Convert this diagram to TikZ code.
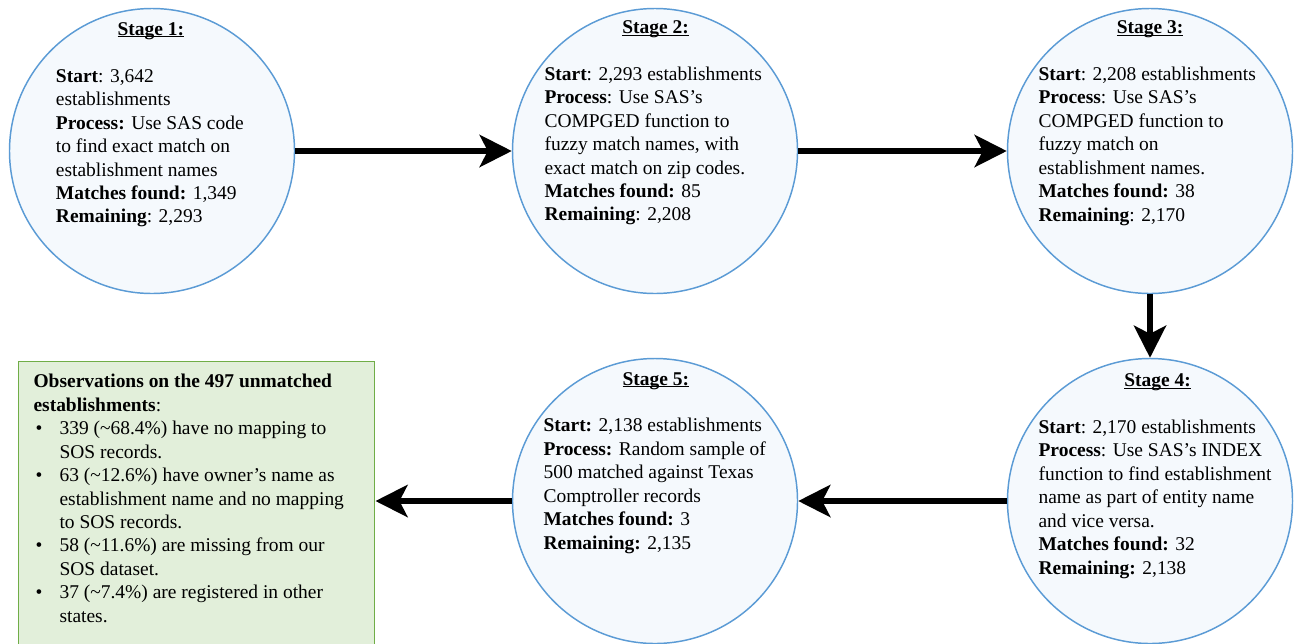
\documentclass[tikz,border=0pt]{standalone}
\usepackage{fontspec}
\setmainfont{Liberation Serif}
\usetikzlibrary{arrows.meta}
\definecolor{circfill}{RGB}{245,249,253}
\definecolor{circline}{RGB}{91,155,213}
\definecolor{boxfill}{RGB}{226,239,218}
\definecolor{boxline}{RGB}{112,173,71}
\newcommand\myul[1]{\setbox0\hbox{#1}\rlap{\rule[-1.8pt]{\wd0}{0.9pt}}\box0}
\newcommand\obbul{\hspace*{1.5pt}\makebox[18pt][l]{\textbullet}}
\newcommand\obind{\hspace*{19.5pt}}
\tikzset{
  stagecirc/.style={circle, draw=circline, fill=circfill, line width=1.1pt, minimum size=213.75pt, inner sep=0pt},
  obsbox/.style={rectangle, draw=boxline, fill=boxfill, line width=1.1pt, minimum width=267pt, minimum height=240pt, inner sep=0pt, anchor=north west},
  body/.style={font=\fontsize{14.6}{17.6}\selectfont, align=left, inner sep=0pt, anchor=north west},
  title/.style={font=\fontsize{14.6}{17.6}\selectfont\bfseries, inner sep=0pt, anchor=base},
  flow/.style={line width=4.5pt, -{Stealth[length=24pt, width=24pt, inset=6pt]}}
}
\begin{document}
\begin{tikzpicture}[x=0.75pt,y=-0.75pt]
\clip (0,0) rectangle (1294,643);
\useasboundingbox (0,0) rectangle (1294,643);
% circles
\node[stagecirc] (s1) at (152,151) {};
\node[stagecirc] (s2) at (655,151) {};
\node[stagecirc] (s3) at (1150,151) {};
\node[stagecirc] (s4) at (1150,501) {};
\node[stagecirc] (s5) at (655,501) {};
\node[obsbox] (obs) at (18,361) {};
% titles
\node[title] (h1) at (150.8,35) {\myul{Stage 1:}};
\node[title] (h2) at (655.5,33.5) {\myul{Stage 2:}};
\node[title] (h3) at (1150,33.5) {\myul{Stage 3:}};
\node[title] (h4) at (1157.5,386.5) {\myul{Stage 4:}};
\node[title] (h5) at (655.8,385) {\myul{Stage 5:}};
% bodies
\node[body] (b1) at (55.7,65.5) {\strut\textbf{Start}: 3,642\\
establishments\\
\textbf{Process:} Use SAS code\\
to find exact match on\\
establishment names\\
\textbf{Matches found:} 1,349\\
\textbf{Remaining}: 2,293};
\node[body] (b2) at (544.3,63.5) {\strut\textbf{Start}: 2,293 establishments\\
\textbf{Process}: Use SAS’s\\
COMPGED function to\\
fuzzy match names, with\\
exact match on zip codes.\\
\textbf{Matches found:} 85\\
\textbf{Remaining}: 2,208};
\node[body] (b3) at (1038.3,63.8) {\strut\textbf{Start}: 2,208 establishments\\
\textbf{Process}: Use SAS’s\\
COMPGED function to\\
fuzzy match on\\
establishment names.\\
\textbf{Matches found:} 38\\
\textbf{Remaining}: 2,170};
\node[body] (b4) at (1038.3,416.5) {\strut\textbf{Start}: 2,170 establishments\\
\textbf{Process}: Use SAS’s INDEX\\
function to find establishment\\
name as part of entity name\\
and vice versa.\\
\textbf{Matches found:} 32\\
\textbf{Remaining:} 2,138};
\node[body] (b5) at (543.3,415) {\strut\textbf{Start:} 2,138 establishments\\
\textbf{Process:} Random sample of\\
500 matched against Texas\\
Comptroller records\\
\textbf{Matches found:} 3\\
\textbf{Remaining:} 2,135};
\node[body] (bo) at (33.3,371) {\strut\textbf{Observations on the 497 unmatched}\\
\textbf{establishments}:\\
\obbul 339 (\textasciitilde68.4\%) have no mapping to\\
\obind SOS records.\\
\obbul 63 (\textasciitilde12.6\%) have owner’s name as\\
\obind establishment name and no mapping\\
\obind to SOS records.\\
\obbul 58 (\textasciitilde11.6\%) are missing from our\\
\obind SOS dataset.\\
\obbul 37 (\textasciitilde7.4\%) are registered in other\\
\obind states.};
% connectors
\draw[flow] (s1.east) -- (s2.west);
\draw[flow] (s2.east) -- (s3.west);
\draw[flow] (s3.south) -- (s4.north);
\draw[flow] (s4.west) -- (s5.east);
\draw[flow] (s5.west) -- (s5.west -| obs.east);
\end{tikzpicture}
\end{document}
